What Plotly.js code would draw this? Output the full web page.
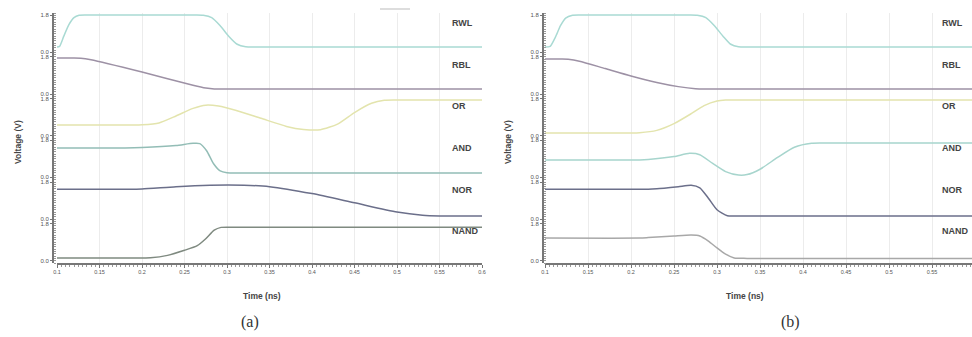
<!DOCTYPE html>
<html><head><meta charset="utf-8">
<script src="https://cdn.plot.ly/plotly-3.0.1.min.js"></script>
<style>html,body{margin:0;padding:0;background:#fff}#c{width:972px;height:337px}</style>
</head><body><div id="c"></div>
<script>
// ---------- data ----------
const signals = ['RWL', 'RBL', 'OR', 'AND', 'NOR', 'NAND'];
const panelLabels = ['(a)', '(b)'];
const xTickVals = [0.1, 0.15, 0.2, 0.25, 0.3, 0.35, 0.4, 0.45, 0.5, 0.55, 0.6];
const xTickText = ['0.1', '0.15', '0.2', '0.25', '0.3', '0.35', '0.4', '0.45', '0.5', '0.55', '0.6'];
const yTickText = ['0.0', '1.8'];

// panel (a)
const rwlA_t = [0.1, 0.103, 0.108, 0.114, 0.12, 0.126, 0.135, 0.262, 0.272, 0.282, 0.292, 0.302, 0.312, 0.322, 0.335, 0.6];
const rwlA_v = [0.33, 0.36, 0.8, 1.3, 1.6, 1.7, 1.71, 1.71, 1.7, 1.6, 1.25, 0.8, 0.45, 0.34, 0.33, 0.33];
const rblA_t = [0.1, 0.12, 0.128, 0.14, 0.2, 0.26, 0.275, 0.285, 0.3, 0.6];
const rblA_v = [1.66, 1.66, 1.65, 1.58, 1.05, 0.48, 0.36, 0.32, 0.32, 0.32];
const orA_t = [0.1, 0.19, 0.2, 0.22, 0.24, 0.26, 0.275, 0.29, 0.31, 0.34, 0.37, 0.39, 0.41, 0.43, 0.45, 0.47, 0.485, 0.5, 0.6];
const orA_v = [0.56, 0.56, 0.57, 0.65, 0.95, 1.28, 1.42, 1.38, 1.2, 0.85, 0.5, 0.37, 0.36, 0.6, 1.1, 1.5, 1.63, 1.64, 1.64];
const andA_t = [0.1, 0.18, 0.2, 0.24, 0.26, 0.268, 0.276, 0.284, 0.292, 0.3, 0.315, 0.6];
const andA_v = [1.37, 1.37, 1.39, 1.48, 1.57, 1.56, 1.25, 0.7, 0.38, 0.3, 0.29, 0.29];
const norA_t = [0.1, 0.18, 0.2, 0.24, 0.28, 0.32, 0.35, 0.4, 0.45, 0.5, 0.53, 0.55, 0.57, 0.6];
const norA_v = [1.39, 1.39, 1.4, 1.5, 1.56, 1.56, 1.5, 1.2, 0.8, 0.4, 0.26, 0.23, 0.23, 0.23];
const nandA_t = [0.1, 0.19, 0.21, 0.23, 0.25, 0.265, 0.275, 0.285, 0.293, 0.305, 0.6];
const nandA_v = [0.22, 0.22, 0.23, 0.33, 0.55, 0.75, 1.05, 1.42, 1.54, 1.55, 1.55];

// panel (b)
const rwlB_t = [0.1, 0.106, 0.112, 0.118, 0.124, 0.132, 0.142, 0.267, 0.277, 0.287, 0.297, 0.307, 0.316, 0.325, 0.338, 0.6];
const rwlB_v = [0.33, 0.36, 0.75, 1.25, 1.58, 1.7, 1.71, 1.71, 1.7, 1.6, 1.25, 0.8, 0.45, 0.34, 0.33, 0.33];
const rblB_t = [0.1, 0.12, 0.127, 0.14, 0.17, 0.2, 0.23, 0.255, 0.275, 0.29, 0.6];
const rblB_v = [1.61, 1.61, 1.6, 1.52, 1.2, 0.88, 0.6, 0.42, 0.33, 0.32, 0.32];
const orB_t = [0.1, 0.2, 0.21, 0.23, 0.25, 0.27, 0.285, 0.3, 0.31, 0.325, 0.6];
const orB_v = [0.22, 0.22, 0.23, 0.33, 0.62, 1.05, 1.4, 1.6, 1.64, 1.64, 1.64];
const andB_t = [0.1, 0.21, 0.22, 0.25, 0.268, 0.28, 0.295, 0.31, 0.325, 0.335, 0.35, 0.37, 0.39, 0.41, 0.425, 0.6];
const andB_v = [0.85, 0.85, 0.87, 1.0, 1.14, 1.08, 0.7, 0.35, 0.2, 0.22, 0.45, 0.95, 1.4, 1.57, 1.58, 1.58];
const norB_t = [0.1, 0.22, 0.23, 0.255, 0.27, 0.28, 0.29, 0.3, 0.312, 0.325, 0.6];
const norB_v = [1.39, 1.39, 1.41, 1.5, 1.56, 1.45, 1.0, 0.5, 0.24, 0.23, 0.23];
const nandB_t = [0.1, 0.21, 0.22, 0.25, 0.27, 0.28, 0.29, 0.3, 0.31, 0.32, 0.335, 0.6];
const nandB_v = [1.08, 1.08, 1.1, 1.17, 1.21, 1.17, 0.95, 0.65, 0.38, 0.22, 0.2, 0.2];

// ---------- styling / layout ----------
const colorsA = ['#a9dad3', '#9d91a5', '#e3e4ad', '#93bdb6', '#6b6f8a', '#7f8a80'];
const colorsB = ['#a9dad3', '#9d91a5', '#e3e4ad', '#a7d5cd', '#6b6f8a', '#a8a8a8'];
const panels = [
  { t: [rwlA_t, rblA_t, orA_t, andA_t, norA_t, nandA_t], v: [rwlA_v, rblA_v, orA_v, andA_v, norA_v, nandA_v], colors: colorsA },
  { t: [rwlB_t, rblB_t, orB_t, andB_t, norB_t, nandB_t], v: [rwlB_v, rblB_v, orB_v, andB_v, norB_v, nandB_v], colors: colorsB }
];

const W = 972, H = 337;
const topPx = 13, stripH = 41.67;
const xPix = [[57, 482], [545, 972]];
const xRanges = [[0.1, 0.6], [0.1, 0.1 + (972 - 545) / 430 * 0.5]];
const yAxisPix = [52, 542];
const labelPix = [450, 940];
const titleCx = [262, 745];
const panelCx = [250, 790];
const yTitlePix = [18, 508];

const traces = [];
const layout = {
  width: W, height: H, margin: { l: 0, r: 0, t: 0, b: 0 },
  paper_bgcolor: '#fff', plot_bgcolor: 'rgba(0,0,0,0)',
  showlegend: false, font: { family: 'Liberation Sans, Arial, sans-serif', color: '#444' },
  annotations: [], shapes: []
};

panels.forEach((p, pi) => {
  const xName = pi === 0 ? 'x' : 'x2';
  const xKey = pi === 0 ? 'xaxis' : 'xaxis2';
  const bottomY = pi * 6 + 6;
  layout[xKey] = {
    domain: [xPix[pi][0] / W, xPix[pi][1] / W],
    range: xRanges[pi],
    anchor: 'y' + bottomY,
    tickmode: 'array', tickvals: xTickVals, ticktext: xTickText,
    tickfont: { size: 5.5, color: '#555' },
    ticks: 'outside', ticklen: 3, tickcolor: '#777',
    minor: { ticks: 'outside', ticklen: 2.5, dtick: 0.005, tickcolor: '#999', showgrid: false },
    showline: true, linecolor: '#777', linewidth: 1.5,
    showgrid: true, gridcolor: '#ececec', gridwidth: 1,
    zeroline: false, fixedrange: true
  };
  for (let k = 0; k < 6; k++) {
    const idx = pi * 6 + k + 1;
    const T = topPx + k * stripH, B = T + stripH;
    const yKey = idx === 1 ? 'yaxis' : 'yaxis' + idx;
    layout[yKey] = {
      domain: [1 - B / H, 1 - T / H],
      range: [0, 1.8],
      anchor: 'free', position: yAxisPix[pi] / W,
      tickmode: 'array', tickvals: [0.1, 1.7], ticktext: yTickText,
      tickfont: { size: 6, color: '#555' },
      ticks: 'outside', ticklen: 2, tickcolor: '#777',
      minor: { ticks: 'inside', ticklen: 2, dtick: 0.1, tickcolor: '#999', showgrid: false },
      showline: true, linecolor: '#777', linewidth: 1.5,
      showgrid: false, zeroline: false, fixedrange: true
    };
    traces.push({
      x: p.t[k], y: p.v[k], type: 'scatter', mode: 'lines',
      xaxis: xName, yaxis: 'y' + (idx === 1 ? '' : idx),
      line: { color: p.colors[k], width: 1.5, shape: 'spline', smoothing: 0.6 },
      hoverinfo: 'skip'
    });
    layout.annotations.push({
      xref: 'paper', yref: 'paper', x: labelPix[pi] / W, y: 1 - (T + 10) / H,
      xanchor: 'left', yanchor: 'middle', showarrow: false,
      text: '<b>' + signals[k] + '</b>', font: { size: 9, color: '#444' }
    });
  }
  layout.annotations.push({
    xref: 'paper', yref: 'paper', x: titleCx[pi] / W, y: 1 - 296 / H,
    xanchor: 'center', yanchor: 'middle', showarrow: false,
    text: '<b>Time (ns)</b>', font: { size: 8.5, color: '#444', family: 'Liberation Sans Narrow, Liberation Sans, Arial' }
  });
  layout.annotations.push({
    xref: 'paper', yref: 'paper', x: yTitlePix[pi] / W, y: 1 - 142 / H,
    xanchor: 'center', yanchor: 'middle', showarrow: false, textangle: -90,
    text: '<b>Voltage (V)</b>', font: { size: 8.5, color: '#444', family: 'Liberation Sans Narrow, Liberation Sans, Arial' }
  });
  layout.annotations.push({
    xref: 'paper', yref: 'paper', x: panelCx[pi] / W, y: 1 - 322 / H,
    xanchor: 'center', yanchor: 'middle', showarrow: false,
    text: panelLabels[pi], font: { size: 16, color: '#333', family: 'Liberation Serif, DejaVu Serif, serif' }
  });
});

layout.shapes.push({ type: 'line', xref: 'paper', yref: 'paper', x0: 380 / W, x1: 410 / W, y0: 1 - 9 / H, y1: 1 - 9 / H, line: { color: '#bbbbbb', width: 1 } });

Plotly.newPlot('c', traces, layout, { displayModeBar: false, staticPlot: true });
</script></body></html>
